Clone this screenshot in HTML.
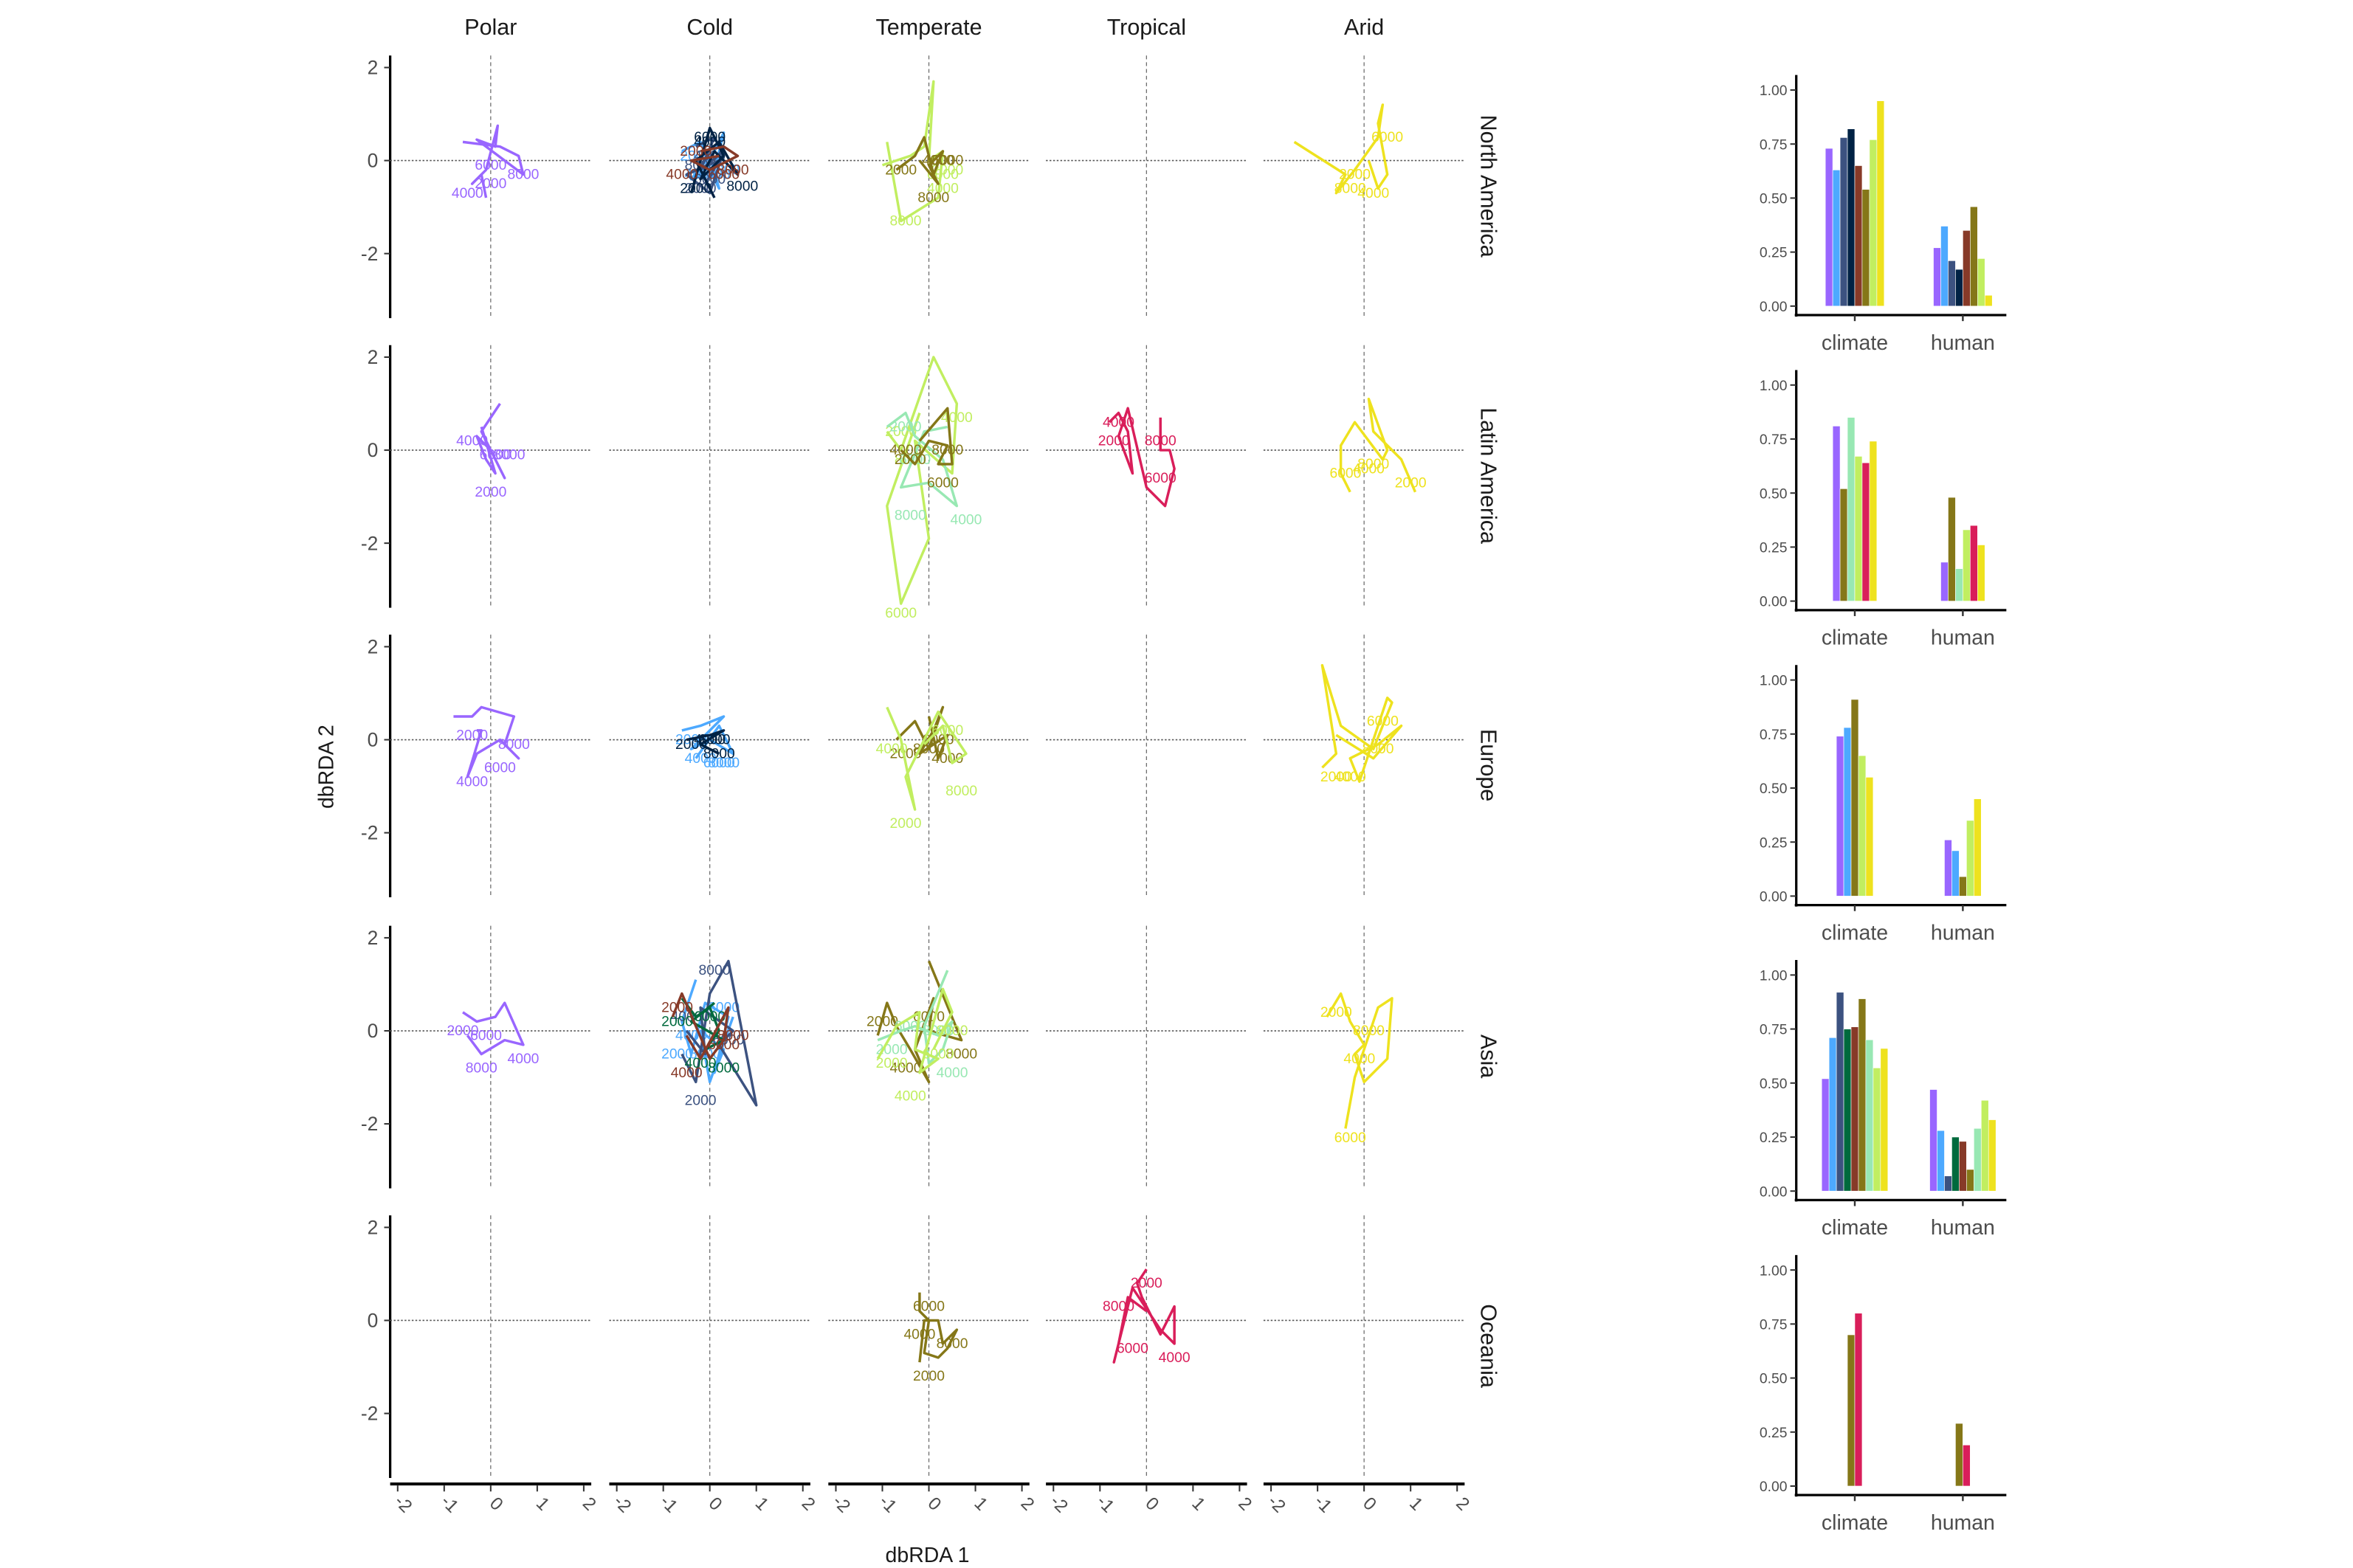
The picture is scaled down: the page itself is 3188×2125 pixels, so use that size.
<!DOCTYPE html>
<html><head><meta charset="utf-8"><style>
html,body{margin:0;padding:0;background:#fff;}
svg{display:block;font-family:"Liberation Sans",Arial,sans-serif;}
</style></head><body>
<svg id="chart" xmlns="http://www.w3.org/2000/svg" width="3188" height="2125" viewBox="0 0 1568 1045" preserveAspectRatio="none">
<g id="panels"></g>
<g id="bars"></g>
<text x="618" y="1041" font-size="14" text-anchor="middle" fill="#1a1a1a">dbRDA 1</text>
<text transform="translate(222,511) rotate(-90)" font-size="14" text-anchor="middle" fill="#1a1a1a">dbRDA 2</text>
</svg>
<script>
const regions = ["North America","Latin America","Europe","Asia","Oceania"];
const climates = ["Polar","Cold","Temperate","Tropical","Arid"];
const xTicks = [-2,-1,0,1,2];
const yTicks = [2,0,-2];
const yearLabels = ["2000","4000","6000","8000"];
const barTicks = [0,0.25,0.5,0.75,1.0];
const barTickLabels = ["0.00","0.25","0.50","0.75","1.00"];
const barCats = ["climate","human"];
const colors = {purple:"#9966FF",blue:"#4DA9FF",slate:"#3C5280",navy:"#002244",brown:"#873A28",olive:"#857718",lime:"#C1EE60",yellow:"#EEE21E",mint:"#98E8B3",red:"#D91E5A",dgreen:"#006A3D"};

// trajectories: r=region row, c=climate column
const series = [
 {r:0,c:0,k:"purple",x:[-0.6,0.2,0.6,0.7,-0.3,0.1,0.15,-0.1,-0.4,-0.2,-0.1],y:[0.4,0.3,0.1,-0.3,0.45,0.3,0.75,-0.2,-0.5,-0.3,-0.8],lx:[0,-0.5,0,0.7],ly:[-0.5,-0.7,-0.1,-0.3]},
 {r:0,c:1,k:"blue",x:[-0.6,-0.2,0.0,0.3,0.1,-0.4,0.0,0.2,-0.1],y:[0.2,0.4,0.0,0.6,-0.2,-0.4,0.1,-0.6,0.0],lx:[-0.3,-0.2,0.1,0.3],ly:[0.1,-0.3,-0.3,-0.2]},
 {r:0,c:1,k:"slate",x:[-0.3,0.1,-0.2,0.3,0,-0.5,0.2,-0.1],y:[0.3,0.5,-0.2,0.2,-0.7,-0.3,0.0,-0.5],lx:[-0.2,0,0,-0.2],ly:[-0.6,0.1,-0.4,-0.1]},
 {r:0,c:1,k:"navy",x:[-0.4,0.0,0.3,-0.2,0.1,0.6,0.2,-0.3,0.1],y:[-0.7,0.7,0.1,-0.4,0.2,-0.3,0.4,0.0,-0.8],lx:[-0.3,0.0,0.0,0.7],ly:[-0.6,0.4,0.5,-0.55]},
 {r:0,c:1,k:"brown",x:[-0.2,0.3,0.6,0.0,-0.4,0.2],y:[0.2,0.3,0.1,-0.2,0.0,0.1],lx:[-0.3,-0.6,0.3,0.5],ly:[0.2,-0.3,-0.3,-0.2]},
 {r:0,c:2,k:"lime",x:[-1.0,-0.4,-0.1,0.1,0.0,0.3,0.2,-0.6,-0.9],y:[-0.1,0.1,0.3,1.7,0.0,0.2,-0.8,-1.3,0.4],lx:[0.4,0.3,0.3,-0.5],ly:[-0.2,-0.6,-0.3,-1.3]},
 {r:0,c:2,k:"olive",x:[-0.7,-0.3,-0.1,0.1,0.3,0.0,0.2,-0.2],y:[-0.2,0.1,0.5,-0.3,0.2,-0.1,-0.5,0.0],lx:[-0.6,0.2,0.4,0.1],ly:[-0.2,0,0,-0.8]},
 {r:0,c:4,k:"yellow",x:[-1.5,-0.4,-0.6,-0.2,0.3,0.4,0.3,0.5,0.3,0.1],y:[0.4,-0.3,-0.7,-0.2,0.5,1.2,0.8,-0.3,-0.6,0.0],lx:[-0.2,0.2,0.5,-0.3],ly:[-0.3,-0.7,0.5,-0.6]},
 {r:1,c:0,k:"purple",x:[0.2,-0.2,0.3,0.0,-0.3,-0.1,0.1,-0.2],y:[1.0,0.4,-0.6,0.0,0.3,-0.2,-0.5,0.5],lx:[0.0,-0.4,0.1,0.4],ly:[-0.9,0.2,-0.1,-0.1]},
 {r:1,c:2,k:"lime",x:[-0.9,-0.6,0.1,0.6,0.5,-0.3,0.0,-0.6,-0.9,-0.2],y:[0.4,0.0,2.0,1.0,-0.5,0.2,-1.9,-3.3,-1.2,0.8],lx:[-0.6,0.6,-0.6,-0.4],ly:[0.4,0.7,-3.5,-0.2]},
 {r:1,c:2,k:"mint",x:[-0.9,-0.5,-0.3,0.3,0.6,0.0,-0.6,-0.1,0.4],y:[0.5,0.8,0.3,-0.2,-1.2,-0.7,-0.8,0.4,0.5],lx:[-0.5,0.8,-0.3,-0.4],ly:[0.5,-1.5,-0.2,-1.4]},
 {r:1,c:2,k:"olive",x:[-0.6,-0.3,0.0,0.4,0.2,0.5,0.4,-0.2],y:[0.0,-0.3,0.2,0.1,-0.3,-0.3,0.9,0.2],lx:[-0.4,-0.5,0.3,0.4],ly:[-0.2,0.0,-0.7,0.0]},
 {r:1,c:3,k:"red",x:[-0.8,-0.6,-0.4,-0.3,-0.6,-0.4,0.0,0.4,0.6,0.5,0.3,0.3],y:[0.6,0.8,0.4,-0.5,0.3,0.9,-0.8,-1.2,-0.4,0.0,0.0,0.7],lx:[-0.7,-0.6,0.3,0.3],ly:[0.2,0.6,-0.6,0.2]},
 {r:1,c:4,k:"yellow",x:[1.1,0.8,0.2,0.1,0.5,0.4,-0.2,-0.5,-0.5,-0.3],y:[-0.9,-0.2,0.4,1.1,0.0,-0.2,0.6,0.1,-0.5,-0.9],lx:[1.0,0.1,-0.4,0.2],ly:[-0.7,-0.4,-0.5,-0.3]},
 {r:2,c:0,k:"purple",x:[-0.8,-0.4,-0.2,0.5,0.3,0.6,0.2,-0.3,-0.5,-0.2,-0.3],y:[0.5,0.5,0.7,0.5,-0.1,-0.4,0.0,-0.3,-0.8,0.2,0.2],lx:[-0.4,-0.4,0.2,0.5],ly:[0.1,-0.9,-0.6,-0.1]},
 {r:2,c:1,k:"blue",x:[-0.6,-0.2,0.3,-0.4,0.0,0.5,0.2,-0.3],y:[0.2,0.3,0.5,-0.2,0.0,-0.3,0.3,-0.4],lx:[-0.4,-0.2,0.2,0.3],ly:[0.0,-0.4,-0.5,-0.5]},
 {r:2,c:1,k:"navy",x:[-0.5,0.0,0.3,-0.2,0.2],y:[0.0,0.1,0.2,-0.1,-0.3],lx:[-0.4,0.0,0.1,0.2],ly:[-0.1,0.0,0,-0.3]},
 {r:2,c:2,k:"olive",x:[-0.7,-0.3,0.0,0.3,0.1,-0.2,0.4,0.2,0.0],y:[0.0,0.4,-0.2,0.7,0.2,-0.3,0.1,-0.4,0.5],lx:[-0.5,0.4,0.2,0.0],ly:[-0.3,-0.4,0.0,-0.2]},
 {r:2,c:2,k:"lime",x:[-0.9,-0.6,-0.3,-0.5,-0.2,0.2,0.8,0.5,0.3,-0.1],y:[0.7,0.0,-1.5,-0.8,-0.2,0.6,-0.3,-0.5,0.3,-0.1],lx:[-0.5,-0.8,0.4,0.7],ly:[-1.8,-0.2,0.2,-1.1]},
 {r:2,c:4,k:"yellow",x:[-0.9,-0.6,-0.9,-0.5,0.2,0.6,0.5,-0.1,-0.3,0.3,0.8,0.2,-0.6],y:[-0.6,-0.3,1.6,0.3,-0.2,0.8,0.9,-0.9,-0.4,-0.1,0.3,-0.4,0.1],lx:[-0.6,-0.3,0.4,0.3],ly:[-0.8,-0.8,0.4,-0.2]},
 {r:3,c:0,k:"purple",x:[-0.6,-0.3,0.1,0.3,0.7,0.3,-0.2,-0.5],y:[0.4,0.2,0.3,0.6,-0.3,-0.2,-0.5,-0.1],lx:[-0.6,0.7,-0.1,-0.2],ly:[0.0,-0.6,-0.1,-0.8]},
 {r:3,c:1,k:"blue",x:[-0.3,-0.6,-0.4,-0.1,0.4,0.1,0.3,-0.2,0.0,0.5],y:[1.1,0.2,-0.5,0.6,0.3,-0.9,-0.4,0.0,-1.1,0.3],lx:[-0.7,-0.4,0.3,-0.1],ly:[-0.5,-0.1,0.5,-0.5]},
 {r:3,c:1,k:"slate",x:[-0.6,-0.3,0.0,0.4,1.0,0.2,0.5,-0.2,-0.1,-0.5],y:[-0.5,-1.1,0.8,1.5,-1.6,-0.3,0.0,0.5,-0.5,0.0],lx:[-0.2,-0.5,0.4,0.1],ly:[-1.5,0.3,-0.2,1.3]},
 {r:3,c:1,k:"dgreen",x:[-0.6,-0.3,0.0,0.2,-0.1,0.3,-0.4,0.1],y:[0.7,0.3,0.5,0.0,-0.4,-0.2,0.2,0.6],lx:[-0.7,-0.2,0.0,0.3],ly:[0.2,-0.7,0.3,-0.8]},
 {r:3,c:1,k:"brown",x:[-0.8,-0.6,-0.3,0.0,0.3,0.4,-0.2,-0.5],y:[0.3,0.8,0.1,-0.6,-0.2,0.5,-0.6,-0.1],lx:[-0.7,-0.5,0.3,0.5],ly:[0.5,-0.9,-0.3,-0.1]},
 {r:3,c:2,k:"olive",x:[-1.1,-0.9,-0.7,-0.4,0.0,-0.3,0.1,0.0,0.7,0.0],y:[-0.1,0.6,0.1,-0.4,-1.1,-0.4,0.7,0.0,-0.2,1.5],lx:[-1.0,-0.5,0.0,0.7],ly:[0.2,-0.8,0.3,-0.5]},
 {r:3,c:2,k:"mint",x:[-1.1,-0.6,-0.3,0.2,0.5,0.3,0.0,-0.1,0.4],y:[-0.2,0.0,0.1,-0.1,0.2,-0.4,-0.7,0.1,1.3],lx:[-0.8,0.5,-0.4,0.2],ly:[-0.4,-0.9,0.1,0.0]},
 {r:3,c:2,k:"lime",x:[-1.1,-0.7,-0.2,-0.3,0.2,-0.2,0.3,0.5,0.1],y:[-0.6,0.1,0.4,-0.4,-0.6,-0.9,0.9,0.4,-0.4],lx:[-0.8,-0.4,0.2,0.5],ly:[-0.7,-1.4,-0.5,0.0]},
 {r:3,c:4,k:"yellow",x:[-0.8,-0.5,-0.3,0.0,-0.2,0.0,0.5,0.6,0.3,-0.2,-0.4],y:[0.3,0.8,0.2,-0.3,-0.5,-1.1,-0.6,0.7,0.5,-1.0,-2.1],lx:[-0.6,-0.1,-0.3,0.1],ly:[0.4,-0.6,-2.3,0.0]},
 {r:4,c:2,k:"olive",x:[-0.2,-0.2,0.0,-0.1,0.2,0.4,0.6,0.3,0.2,-0.1,-0.2],y:[0.6,0.2,0.0,-0.7,-0.8,-0.6,-0.2,-0.5,0.0,0.0,-0.9],lx:[0.0,-0.2,0.0,0.5],ly:[-1.2,-0.3,0.3,-0.5]},
 {r:4,c:3,k:"red",x:[0.0,-0.2,-0.1,0.3,0.6,0.6,0.3,-0.3,-0.7,-0.6,-0.4,0.0],y:[1.1,0.8,0.5,-0.3,0.3,-0.5,-0.2,0.7,-0.9,-0.5,0.5,0.2],lx:[0.0,0.6,-0.3,-0.6],ly:[0.8,-0.8,-0.6,0.3]}
];

// bar data per region
const barKeys = [
 ["purple","blue","slate","navy","brown","olive","lime","yellow"],
 ["purple","olive","mint","lime","red","yellow"],
 ["purple","blue","olive","lime","yellow"],
 ["purple","blue","slate","dgreen","brown","olive","mint","lime","yellow"],
 ["olive","red"]
];
const climateVals = [
 [0.73,0.63,0.78,0.82,0.65,0.54,0.77,0.95],
 [0.81,0.52,0.85,0.67,0.64,0.74],
 [0.74,0.78,0.91,0.65,0.55],
 [0.52,0.71,0.92,0.75,0.76,0.89,0.70,0.57,0.66],
 [0.70,0.80]
];
const humanVals = [
 [0.27,0.37,0.21,0.17,0.35,0.46,0.22,0.05],
 [0.18,0.48,0.15,0.33,0.35,0.26],
 [0.26,0.21,0.09,0.35,0.45],
 [0.47,0.28,0.07,0.25,0.23,0.10,0.29,0.42,0.33],
 [0.29,0.19]
];

const NS="http://www.w3.org/2000/svg";
function mk(tag,attrs,parent){const e=document.createElementNS(NS,tag);for(const a in attrs)e.setAttribute(a,attrs[a]);parent.appendChild(e);return e;}
const colZero=[327,473,619,764,909], rowZero=[107,300,493,687,880], U=31;
const sx=(c,v)=>colZero[c]+v*U, sy=(r,v)=>rowZero[r]-v*U;
const P=document.getElementById('panels');

climates.forEach((cl,c)=>{
 const t=mk('text',{x:colZero[c],y:23,'font-size':15,'text-anchor':'middle',fill:'#1a1a1a'},P);t.textContent=cl;
 
 
 const ax=mk('line',{x1:colZero[c]-67,x2:colZero[c]+67,y1:989,y2:989,stroke:'#000','stroke-width':2},P);
 
 
 xTicks.forEach(v=>{
  mk('line',{x1:sx(c,v),x2:sx(c,v),y1:990,y2:994,stroke:'#333','stroke-width':1},P);
  const tl=mk('text',{transform:`translate(${sx(c,v)+1},${1005}) rotate(45)`,'font-size':12,'text-anchor':'middle',fill:'#4d4d4d'},P);tl.textContent=v;
  
  
 });
});
regions.forEach((rg,r)=>{
 const top=rowZero[r]-70,bot=rowZero[r]+105;
 const ay=mk('line',{x1:260,x2:260,y1:top,y2:bot,stroke:'#000','stroke-width':1.6},P);
 
 
 yTicks.forEach(v=>{
  mk('line',{x1:256,x2:260,y1:sy(r,v),y2:sy(r,v),stroke:'#333','stroke-width':1},P);
  const tl=mk('text',{x:252,y:sy(r,v)+4.5,'font-size':13,'text-anchor':'end',fill:'#4d4d4d'},P);tl.textContent=v;
  
  
 });
 const st=mk('text',{transform:`translate(987,${rowZero[r]+17}) rotate(90)`,'font-size':15,'text-anchor':'middle',fill:'#1a1a1a'},P);st.textContent=rg;
 
 
 climates.forEach((cl,c)=>{
  mk('line',{x1:colZero[c]-67,x2:colZero[c]+67,y1:rowZero[r],y2:rowZero[r],stroke:'#555','stroke-width':0.8,'stroke-dasharray':'1.2 1.2'},P);
  mk('line',{x1:colZero[c],x2:colZero[c],y1:top,y2:bot,stroke:'#666','stroke-width':0.6,'stroke-dasharray':'2.5 2'},P);
 });
});
series.forEach(s=>{
 const g=mk('g',{},P);
 
 
 const pts=s.x.map((v,i)=>sx(s.c,v)+','+sy(s.r,s.y[i])).join(' ');
 mk('polyline',{points:pts,fill:'none',stroke:colors[s.k],'stroke-width':1.7,'stroke-linejoin':'round'},g);
 s.lx.forEach((v,i)=>{
  const t=mk('text',{x:sx(s.c,v),y:sy(s.r,s.ly[i])+3,'font-size':9.5,'text-anchor':'middle',fill:colors[s.k]},g);t.textContent=yearLabels[i];
  
  
 });
});

// bars
const B=document.getElementById('bars');
const catX=[1236,1308], bw=4.9;
regions.forEach((rg,r)=>{
 const zero=204+r*196.6, H=144, by=v=>zero-v*H;
 const g=mk('g',{},B);
 
 
 mk('line',{x1:1197,x2:1197,y1:zero-154,y2:zero+7,stroke:'#000','stroke-width':1.6},g);
 mk('line',{x1:1196,x2:1337,y1:zero+6,y2:zero+6,stroke:'#000','stroke-width':1.6},g);
 barTicks.forEach((v,i)=>{
  mk('line',{x1:1193,x2:1197,y1:by(v),y2:by(v),stroke:'#333','stroke-width':1},g);
  const t=mk('text',{x:1191,y:by(v)+3.5,'font-size':9.5,'text-anchor':'end',fill:'#4d4d4d'},g);t.textContent=barTickLabels[i];
  
  
 });
 [climateVals[r],humanVals[r]].forEach((vals,ci)=>{
  mk('line',{x1:catX[ci],x2:catX[ci],y1:zero+6,y2:zero+10,stroke:'#333','stroke-width':1.2},g);
  const t=mk('text',{x:catX[ci],y:zero+29,'font-size':14,'text-anchor':'middle',fill:'#4d4d4d'},g);t.textContent=barCats[ci];
  
  
  const n=vals.length, x0=catX[ci]-n*bw/2;
  vals.forEach((v,i)=>{
   const rc=mk('rect',{x:x0+i*bw,y:by(v),width:bw,height:v*H,fill:colors[barKeys[r][i]],stroke:'#fff','stroke-width':0.3},g);
   
   
  });
 });
});
</script>
</body></html>
